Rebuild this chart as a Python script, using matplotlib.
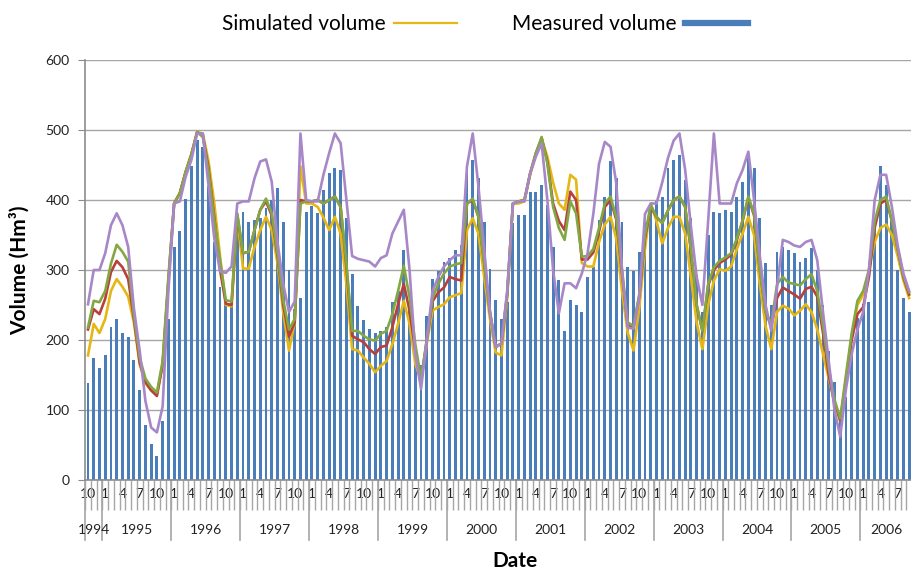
import matplotlib
matplotlib.use("Agg")
import matplotlib.pyplot as plt
from matplotlib.lines import Line2D
import numpy as np
import pandas as pd

# monthly series, Oct 1994 .. Sep 2006
months = pd.period_range("1994-10", periods=144, freq="M")

measured = [
    139, 175, 160,
    178, 218, 230, 210, 204, 171, 129, 78, 52, 34, 85, 230,
    333, 355, 402, 448, 486, 475, 420, 340, 276, 257, 250, 365,
    383, 369, 371, 374, 388, 400, 417, 369, 300, 245, 260, 383,
    392, 381, 414, 438, 445, 443, 375, 294, 249, 228, 216, 210,
    213, 218, 254, 270, 328, 250, 190, 165, 235, 287, 299, 311,
    317, 329, 335, 448, 457, 431, 369, 302, 257, 230, 255, 367,
    379, 379, 412, 412, 421, 393, 333, 286, 213, 257, 250, 240,
    290, 305, 371, 405, 455, 432, 369, 304, 299, 326, 369, 395,
    398, 405, 445, 457, 464, 429, 375, 293, 240, 350, 383, 381,
    386, 383, 405, 426, 465, 445, 375, 310, 250, 326, 333, 329,
    324, 312, 317, 331, 300, 250, 185, 140, 94, 118, 190, 232,
    251, 255, 371, 448, 421, 370, 300, 260, 240,
]

simulated = [
    178, 223, 210,
    230, 270, 287, 276, 262, 225, 165, 138, 128, 122, 165, 280,
    395, 410, 440, 465, 497, 495, 455, 395, 320, 250, 248, 375,
    302, 302, 333, 357, 376, 357, 310, 240, 185, 225, 448, 395,
    395, 390, 375, 357, 376, 352, 280, 187, 185, 175, 166, 154,
    163, 170, 194, 223, 256, 223, 166, 142, 195, 242, 247, 251,
    261, 264, 267, 357, 374, 352, 290, 230, 182, 178, 260, 395,
    395, 398, 436, 465, 488, 462, 425, 395, 386, 436, 429, 310,
    305, 305, 340, 365, 376, 345, 270, 210, 185, 245, 330, 395,
    370, 338, 360, 376, 376, 352, 290, 225, 187, 250, 285, 301,
    299, 305, 330, 352, 376, 350, 280, 220, 187, 240, 249, 245,
    235, 242, 251, 240, 215, 180, 145, 110, 85, 145, 205, 250,
    265, 300, 340, 360, 365, 350, 320, 285, 260,
]

sim_red = [
    215, 244, 237,
    259, 297, 313, 304, 287, 230, 168, 140, 128, 120, 165, 285,
    395, 410, 440, 465, 497, 492, 445, 375, 300, 252, 250, 378,
    324, 326, 357, 386, 398, 378, 320, 250, 205, 225, 400, 398,
    398, 400, 395, 400, 405, 390, 305, 206, 201, 197, 187, 180,
    190, 192, 218, 251, 280, 242, 185, 140, 200, 255, 268, 275,
    290, 287, 285, 395, 400, 376, 310, 240, 190, 195, 265, 395,
    398, 400, 438, 467, 488, 455, 395, 370, 357, 412, 400, 315,
    315, 325, 355, 390, 400, 372, 295, 220, 218, 262, 345, 390,
    376, 367, 385, 400, 405, 390, 328, 250, 213, 278, 300, 310,
    315, 322, 343, 370, 403, 378, 300, 240, 220, 260, 275, 270,
    265, 259, 273, 276, 262, 210, 150, 110, 85, 140, 200, 237,
    247, 290, 360, 395, 400, 370, 330, 290, 265,
]

sim_green = [
    218, 256, 254,
    270, 309, 336, 326, 312, 235, 175, 145, 133, 125, 170, 290,
    395, 410, 440, 465, 497, 490, 440, 371, 314, 257, 255, 381,
    324, 326, 357, 386, 402, 381, 324, 257, 215, 230, 395, 398,
    398, 400, 395, 400, 405, 390, 310, 213, 213, 206, 201, 199,
    209, 213, 237, 270, 306, 261, 194, 145, 200, 260, 280, 295,
    305, 308, 310, 395, 402, 376, 310, 240, 190, 195, 265, 395,
    398, 400, 438, 467, 490, 452, 390, 360, 343, 398, 381, 319,
    320, 330, 360, 395, 405, 375, 300, 225, 220, 265, 350, 393,
    376, 367, 385, 400, 405, 390, 330, 250, 213, 280, 304, 313,
    318, 324, 345, 371, 405, 380, 300, 240, 223, 280, 290, 282,
    280, 278, 287, 294, 270, 220, 160, 115, 88, 150, 210, 256,
    270, 300, 370, 400, 405, 370, 330, 292, 268,
]

sim_purple = [
    251, 300, 300,
    324, 364, 381, 364, 333, 245, 185, 113, 75, 68, 105, 270,
    395, 398, 433, 457, 495, 495, 420, 345, 298, 296, 305, 395,
    398, 398, 431, 455, 458, 426, 340, 280, 240, 255, 495, 400,
    398, 398, 436, 467, 495, 481, 400, 320, 316, 314, 312, 305,
    317, 321, 352, 369, 386, 300, 180, 130, 200, 270, 290, 305,
    314, 321, 321, 448, 495, 419, 330, 240, 190, 195, 270, 395,
    398, 398, 438, 462, 481, 400, 300, 238, 281, 281, 274, 295,
    324, 380, 452, 483, 476, 424, 300, 218, 216, 260, 380, 395,
    395, 425, 460, 485, 495, 443, 362, 290, 250, 370, 495, 395,
    395, 395, 424, 443, 469, 400, 320, 250, 213, 275, 343, 340,
    335, 333, 340, 343, 314, 240, 170, 100, 62, 130, 180, 215,
    240, 300, 400, 436, 436, 390, 335, 295, 270,
]

yticks = [0, 100, 200, 300, 400, 500, 600]
tick_months = [1, 4, 7, 10]

plt.rcParams["font.family"] = ["Lato", "DejaVu Sans"]

W, H = 912, 572
fig = plt.figure(figsize=(W / 100, H / 100), dpi=100)
ax = fig.add_axes([85 / W, 92 / H, (W - 85) / W, 420 / H])

x = np.arange(len(months))
ax.bar(x, measured, width=0.5, color="#4A7EBB", zorder=2)
ax.plot(x, simulated, color="#E5B714", lw=1.9, zorder=3)
ax.plot(x, sim_red, color="#B8403B", lw=1.9, zorder=4)
ax.plot(x, sim_green, color="#83A843", lw=1.9, zorder=5)
ax.plot(x, sim_purple, color="#A787C7", lw=1.9, zorder=6)

ax.set_xlim(-0.52, 141.33)
ax.set_ylim(0, 600)
ax.set_yticks(yticks)
ax.grid(axis="y", color="#a6a6a6", lw=1, zorder=0)
ax.set_axisbelow(True)
for s in ("top", "right"):
    ax.spines[s].set_visible(False)
for s in ("left", "bottom"):
    ax.spines[s].set_color("#8c8c8c")
    ax.spines[s].set_linewidth(1.2)
ax.tick_params(axis="y", labelsize=10, colors="#8c8c8c", labelcolor="#222222",
               length=5, pad=6)

# month labels
pos = [i for i, m in enumerate(months) if m.month in tick_months]
ax.set_xticks(pos)
ax.set_xticklabels([str(months[i].month) for i in pos])
ax.tick_params(axis="x", which="major", length=0, labelsize=10,
               labelcolor="#222222", pad=6)
ax.set_xticks(np.arange(-0.5, len(months), 1), minor=True)
ax.tick_params(axis="x", which="minor", length=21.6, width=1,
               color="#a6a6a6", direction="out")

# year separators and labels
trans = ax.get_xaxis_transform()
bounds = [-0.5] + [i - 0.5 for i, m in enumerate(months) if m.month == 1]
for b in bounds:
    ax.plot([b, b], [0, -60 / 420], transform=trans, color="#a6a6a6",
            lw=1.2, clip_on=False)
years = sorted(set(m.year for m in months))
for yr in years:
    idx = [i for i, m in enumerate(months) if m.year == yr]
    ax.text(np.mean(idx), -50 / 420, str(yr), transform=trans, ha="center",
            va="center", fontsize=10, color="#222222", clip_on=False)

ax.set_ylabel("Volume (Hm³)", fontsize=15, fontweight="bold")
ax.yaxis.set_label_coords((30 - 85) / 827, 0.5)
ax.set_xlabel("Date", fontsize=15, fontweight="bold")
ax.xaxis.set_label_coords((515 - 85) / 827, -(551 - 480) / 420)

handles = [Line2D([], [], color="#E5B714", lw=1.6),
           Line2D([], [], color="#4A7EBB", lw=4.5)]
fig.legend(handles, ["Simulated volume", "Measured volume"], loc="center",
           bbox_to_anchor=(485 / W, 1 - 24 / H), ncol=2, frameon=False,
           markerfirst=False, fontsize=15, handlelength=3.0,
           columnspacing=2.65, handletextpad=0.4)

fig.savefig("out.png", dpi=100, facecolor="white")
